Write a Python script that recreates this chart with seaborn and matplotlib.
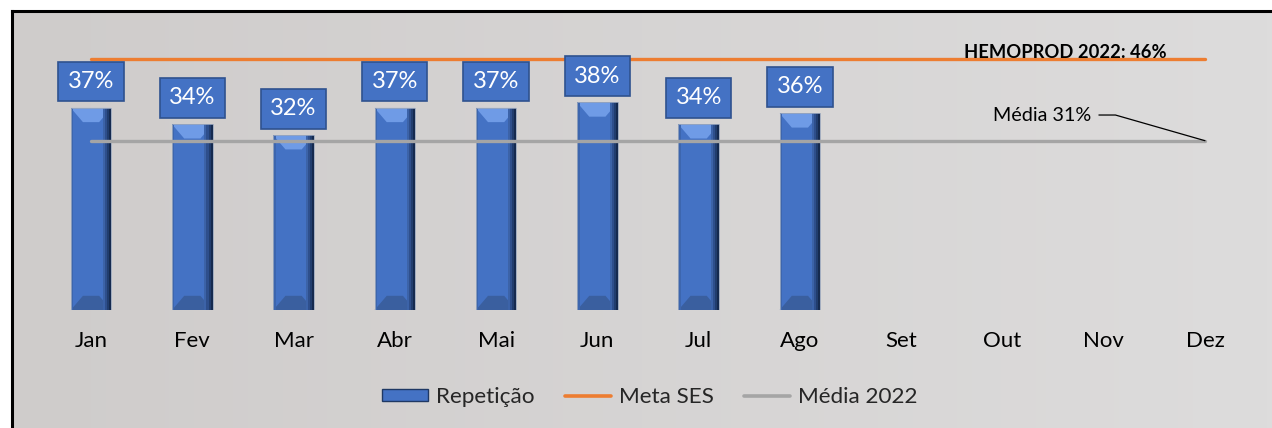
import matplotlib
matplotlib.use("Agg")
import matplotlib.pyplot as plt
import numpy as np
import pandas as pd
import seaborn as sns
from matplotlib.lines import Line2D
from matplotlib.patches import Patch, Polygon, Rectangle

# dados
meses = ["Jan", "Fev", "Mar", "Abr", "Mai", "Jun", "Jul", "Ago", "Set", "Out", "Nov", "Dez"]
repeticao = [0.37, 0.34, 0.32, 0.37, 0.37, 0.38, 0.34, 0.36, np.nan, np.nan, np.nan, np.nan]
meta_ses = [0.46, 0.46, 0.46, 0.46, 0.46, 0.46, 0.46, 0.46, 0.46, 0.46, 0.46, 0.46]
media_2022 = [0.31, 0.31, 0.31, 0.31, 0.31, 0.31, 0.31, 0.31, 0.31, 0.31, 0.31, 0.31]
texto_meta = "HEMOPROD 2022: 46%"
texto_media = "Média 31%"

AZUL = "#4472C4"
LARANJA = "#ED7D31"
CINZA = "#A5A5A5"

sns.set_theme(style="white")
plt.rcParams["font.family"] = ["Lato", "DejaVu Sans"]

fig = plt.figure(figsize=(12.72, 4.28), dpi=100)
fig.patch.set_facecolor("white")

# fundo cinza com leve gradiente e borda preta
bg = fig.add_axes([12 / 1272, 0, 1 - 12 / 1272, 1 - 11 / 428])
grad = np.linspace(0, 1, 256).reshape(1, -1)
cmap = matplotlib.colors.LinearSegmentedColormap.from_list("bg", ["#cfcccb", "#dddcdc"])
bg.imshow(grad, aspect="auto", cmap=cmap, extent=[0, 1, 0, 1])
bg.set_xticks([])
bg.set_yticks([])
for side in ["right", "bottom"]:
    bg.spines[side].set_visible(False)
for side in ["left", "top"]:
    bg.spines[side].set_color("black")
    bg.spines[side].set_linewidth(2.2)

ax = fig.add_axes([40.4 / 1272, (428 - 310) / 428, 1215.2 / 1272, 284 / 428])
ax.set_facecolor("none")

df = pd.DataFrame({"mes": meses, "repeticao": repeticao})
sns.barplot(data=df, x="mes", y="repeticao", order=meses, color=AZUL,
            width=0.4, saturation=1, edgecolor="none", ax=ax, zorder=2)

# efeito de bisel nas barras
for bar in ax.patches:
    x0, w, h = bar.get_x(), bar.get_width(), bar.get_height()
    if not np.isfinite(h) or h == 0:
        continue
    dx, dy = w * 0.3, 0.026
    ax.add_patch(Polygon([(x0, h), (x0 + w, h), (x0 + w - dx, h - dy), (x0 + dx, h - dy)],
                         closed=True, facecolor="#6f9be6", edgecolor="none", zorder=3))
    ax.add_patch(Polygon([(x0, 0), (x0 + w, 0), (x0 + w - dx, dy), (x0 + dx, dy)],
                         closed=True, facecolor="#3a5f9f", edgecolor="none", zorder=3))
    ax.add_patch(Rectangle((x0, 0), w * 0.06, h, facecolor="#3d66ae",
                           edgecolor="none", zorder=3))
    for k, c in enumerate(["#3c63a8", "#2e4f8c", "#213d6e", "#152a4f"]):
        ax.add_patch(Rectangle((x0 + w * (0.80 + 0.05 * k), 0), w * 0.05, h,
                               facecolor=c, edgecolor="none", zorder=3))
    ax.add_patch(Rectangle((x0, 0), w, h, facecolor="none", edgecolor="#9aa7bd",
                           linewidth=0.6, zorder=3.5))

pos = np.arange(len(meses))
sns.lineplot(x=pos, y=meta_ses, color=LARANJA, linewidth=2.4, ax=ax, zorder=4,
             solid_capstyle="round")
sns.lineplot(x=pos, y=media_2022, color=CINZA, linewidth=2.4, ax=ax, zorder=4,
             solid_capstyle="round")

# rotulos de dados
for i, v in enumerate(repeticao):
    if np.isnan(v):
        continue
    ax.annotate(f"{v:.0%}", xy=(i, v), xytext=(0, 19), textcoords="offset points",
                ha="center", va="center", color="white", fontsize=17, zorder=6,
                bbox=dict(boxstyle="square,pad=0.4", facecolor=AZUL,
                          edgecolor="#2F528F", linewidth=1.2))

ax.text(9.62, 0.472, texto_meta, ha="center", va="center", fontsize=13.2,
        fontweight="bold", color="black", zorder=6)
ax.annotate(texto_media, xy=(pos[-1], media_2022[-1]), xytext=(9.39, 0.357),
            ha="center", va="center", fontsize=14.2, color="black", zorder=6,
            arrowprops=dict(arrowstyle="-", color="black", linewidth=0.9,
                            shrinkA=0, shrinkB=0,
                            connectionstyle="angle,angleA=0,angleB=-16,rad=0",
                            relpos=(1.08, 0.5)))

ax.set_xlim(-0.5, 11.5)
ax.set_ylim(0, 0.52)
ax.set_yticks([])
ax.set_xlabel("")
ax.set_ylabel("")
ax.tick_params(axis="x", length=0, pad=15, labelsize=16, labelcolor="black")
sns.despine(ax=ax, left=True, bottom=True)

handles = [
    Patch(facecolor=AZUL, edgecolor="#1f3864", linewidth=1.0),
    Line2D([0], [0], color=LARANJA, linewidth=2.6),
    Line2D([0], [0], color=CINZA, linewidth=2.6),
]
fig.legend(handles, ["Repetição", "Meta SES", "Média 2022"], loc="center",
           bbox_to_anchor=(0.511, 0.072), ncol=3, frameon=False, fontsize=16.2,
           handlelength=2.05, handleheight=0.45, handletextpad=0.35, columnspacing=1.35)

fig.savefig("out.png", dpi=100)
